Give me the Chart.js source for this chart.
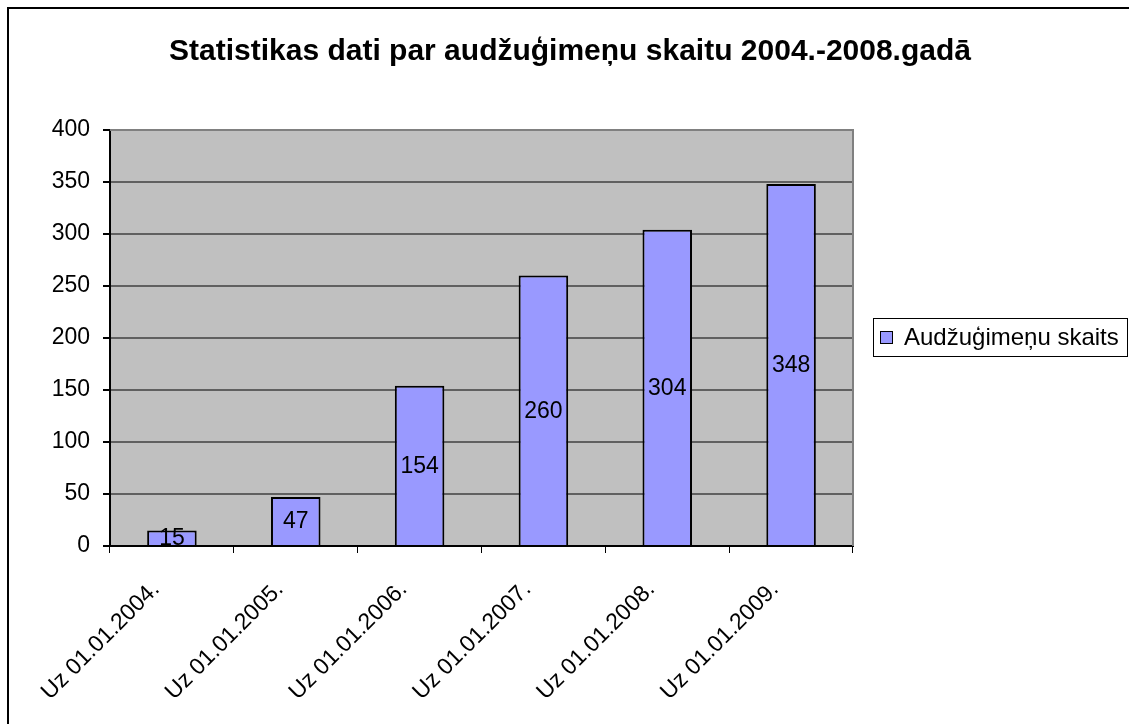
<!DOCTYPE html>
<html>
<head>
<meta charset="utf-8">
<script src="https://cdn.jsdelivr.net/npm/chart.js@4/dist/chart.umd.min.js"></script>
<style>
html,body{margin:0;padding:0;background:#fff;}
#wrap{width:1129px;height:724px;position:relative;}
</style>
</head>
<body>
<div id="wrap"><canvas id="c" width="1129" height="724"></canvas></div>
<script>
const chartTitle = 'Statistikas dati par audžuģimeņu skaitu 2004.-2008.gadā';
const categories = ['Uz 01.01.2004.', 'Uz 01.01.2005.', 'Uz 01.01.2006.', 'Uz 01.01.2007.', 'Uz 01.01.2008.', 'Uz 01.01.2009.'];
const seriesName = 'Audžuģimeņu skaits';
const seriesValues = [15, 47, 154, 260, 304, 348];
const yTicks = [0, 50, 100, 150, 200, 250, 300, 350, 400];

const FONT = '"Liberation Sans", Arial, sans-serif';
const PLOT = {left: 110, right: 853, top: 130, bottom: 546};

const decor = {
  id: 'decor',
  beforeDraw(chart) {
    const ctx = chart.ctx, a = chart.chartArea;
    ctx.save();
    ctx.fillStyle = '#ffffff';
    ctx.fillRect(0, 0, chart.width, chart.height);
    ctx.strokeStyle = '#000000';
    ctx.lineWidth = 2;
    ctx.strokeRect(8, 8, chart.width + 20, chart.height + 20);
    ctx.fillStyle = '#c0c0c0';
    ctx.fillRect(a.left, a.top, a.right - a.left, a.bottom - a.top);
    ctx.restore();
  },
  afterDatasetsDraw(chart) {
    const ctx = chart.ctx, a = chart.chartArea;
    ctx.save();
    ctx.strokeStyle = '#808080';
    ctx.lineWidth = 2;
    ctx.beginPath();
    ctx.moveTo(a.left, a.top);
    ctx.lineTo(a.right, a.top);
    ctx.lineTo(a.right, a.bottom);
    ctx.stroke();
    const meta = chart.getDatasetMeta(0);
    ctx.fillStyle = '#000';
    ctx.font = '23px ' + FONT;
    ctx.textAlign = 'center';
    ctx.textBaseline = 'middle';
    meta.data.forEach((bar, i) => {
      const p = bar.getProps(['x', 'y', 'base'], true);
      ctx.fillText(String(chart.data.datasets[0].data[i]), p.x, (p.y + p.base) / 2 + 1);
    });
    ctx.font = 'bold 30px ' + FONT;
    ctx.fillText(chartTitle, 570, 52);
    const lx = 873, ly = 318, lw = 254, lh = 38;
    ctx.fillStyle = '#fff';
    ctx.fillRect(lx, ly, lw, lh);
    ctx.strokeStyle = '#000';
    ctx.lineWidth = 1;
    ctx.strokeRect(lx + 0.5, ly + 0.5, lw, lh);
    ctx.fillStyle = '#9999ff';
    ctx.fillRect(lx + 7.5, ly + 13.5, 12, 12);
    ctx.strokeRect(lx + 7.5, ly + 13.5, 12, 12);
    ctx.fillStyle = '#000';
    ctx.textAlign = 'left';
    ctx.font = '24px ' + FONT;
    ctx.fillText(chart.data.datasets[0].label, lx + 31, ly + 20);
    ctx.restore();
  }
};

new Chart(document.getElementById('c'), {
  type: 'bar',
  data: {
    labels: categories,
    datasets: [{
      label: seriesName,
      data: seriesValues,
      backgroundColor: '#9999ff',
      borderColor: '#000000',
      borderWidth: 2,
      barPercentage: 0.4,
      categoryPercentage: 1.0
    }]
  },
  options: {
    responsive: false,
    animation: false,
    devicePixelRatio: 1,
    layout: {padding: {left: 0, top: PLOT.top, right: 1129 - PLOT.right, bottom: 0}},
    plugins: {legend: {display: false}, title: {display: false}, tooltip: {enabled: false}},
    scales: {
      x: {
        offset: true,
        grid: {offset: true, drawOnChartArea: false, drawTicks: true, tickLength: 7, color: '#000', tickColor: '#000'},
        border: {display: true, color: '#000', width: 2},
        ticks: {
          color: '#000', font: {family: FONT, size: 23},
          minRotation: 45, maxRotation: 45, padding: 23, labelOffset: -16, autoSkip: false
        },
        afterFit(s) { s.height = 724 - PLOT.bottom; }
      },
      y: {
        min: 0, max: 400,
        afterBuildTicks(s) { s.ticks = yTicks.map(v => ({value: v})); },
        grid: {color: '#606060', lineWidth: 2, tickLength: 7, tickColor: '#000'},
        border: {display: true, color: '#000', width: 2},
        ticks: {color: '#000', font: {family: FONT, size: 23}, padding: 13},
        afterFit(s) { s.width = PLOT.left; }
      }
    }
  },
  plugins: [decor]
});
</script>
</body>
</html>
